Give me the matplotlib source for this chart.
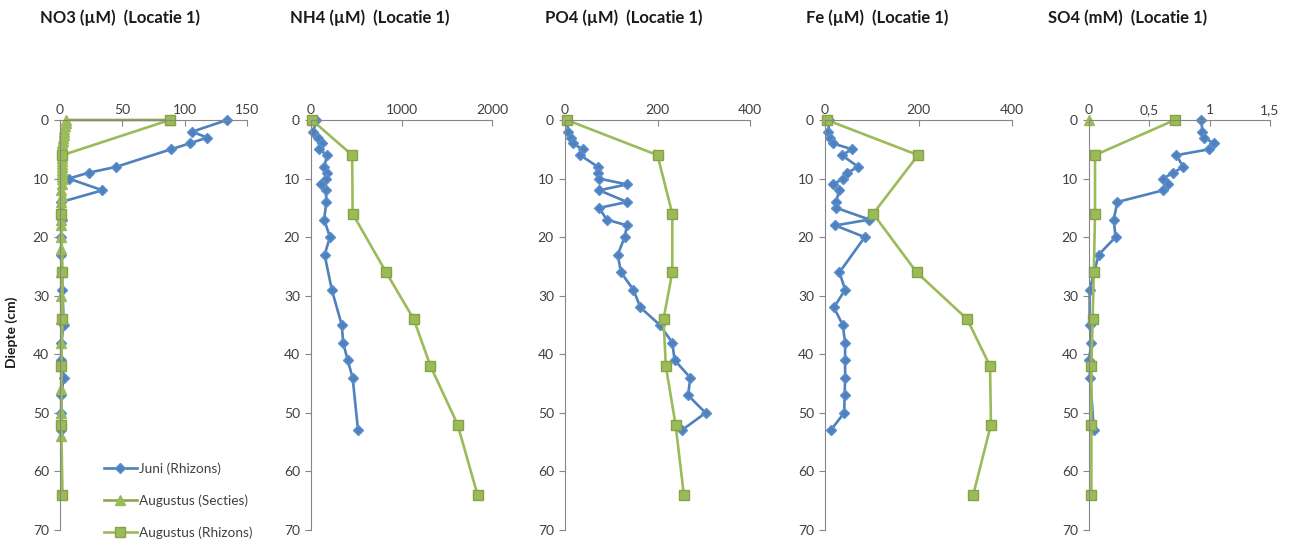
import matplotlib
matplotlib.use('Agg')
import matplotlib.pyplot as plt
from matplotlib.ticker import FuncFormatter

plt.rcParams['font.family'] = ['Lato', 'DejaVu Sans']

# Juni (Rhizons)
juni_depth_no3 = [0, 2, 3, 4, 5, 8, 9, 10, 12, 14, 17, 20, 23, 29, 35, 38, 41, 44, 47, 50, 53]
juni_no3 = [134, 106, 118, 104, 89, 45, 23, 7, 34, 1, 2, 1, 1, 2, 3, 1, 1, 3, 1, 1, 1]

juni_depth_nh4 = [0, 2, 3, 4, 5, 6, 8, 9, 10, 11, 12, 14, 17, 20, 23, 29, 35, 38, 41, 44, 53]
juni_nh4 = [60, 25, 80, 120, 90, 180, 145, 180, 165, 115, 165, 170, 145, 210, 150, 230,
            340, 355, 405, 460, 520]

juni_depth_po4 = [0, 2, 3, 4, 5, 6, 8, 9, 10, 11, 12, 14, 15, 17, 18, 20, 23, 26, 29, 32,
                  35, 38, 41, 44, 47, 50, 53]
juni_po4 = [4, 7, 12, 17, 38, 33, 71, 72, 74, 134, 74, 134, 74, 90, 134, 129, 114, 121,
            148, 163, 205, 232, 237, 271, 266, 304, 252]

juni_depth_fe = [0, 2, 3, 4, 5, 6, 8, 9, 10, 11, 12, 14, 15, 17, 18, 20, 26, 29, 32, 35,
                 38, 41, 44, 47, 50, 53]
juni_fe = [9, 7, 11, 17, 58, 36, 71, 48, 38, 18, 30, 24, 24, 95, 22, 85, 31, 43, 19, 38,
           43, 43, 43, 42, 41, 12]

juni_depth_so4 = [0, 2, 3, 4, 5, 6, 8, 9, 10, 11, 12, 14, 17, 20, 23, 29, 35, 38, 41, 44, 53]
juni_so4 = [0.93, 0.94, 0.955, 1.035, 0.995, 0.725, 0.78, 0.70, 0.61, 0.655, 0.615, 0.235,
            0.205, 0.22, 0.08, 0.005, 0.005, 0.02, 0.0, 0.01, 0.04]

# Augustus (Secties)
sect_depth_no3 = [0, 0, 0.5, 1, 1.5, 2, 2.5, 3, 3.5, 4, 4.5, 5, 5.5, 6, 6.5, 7, 7.5, 8,
                  8.5, 9, 9.5, 10, 11, 12, 13, 14, 15, 16, 17, 18, 20, 22, 26, 30, 34,
                  38, 42, 46, 50, 54]
sect_no3 = [88, 5, 4.5, 4, 3.5, 3, 3, 2.5, 2.5, 2, 2, 2, 2, 2, 1.5, 2, 1.5, 1.5, 2, 1.5,
            1.5, 1.5, 1.5, 1, 1.5, 1, 1, 1, 1, 1, 1, 1, 1, 1, 1, 1, 1, 1, 1, 1]
sect_depth_so4 = [0]
sect_so4 = [0]

# Augustus (Rhizons)
rhiz_depth = [0, 6, 16, 26, 34, 42, 52, 64]
rhiz_no3 = [88, 2, 1, 2, 2, 1, 1, 2]
rhiz_nh4 = [10, 455, 460, 830, 1135, 1320, 1620, 1840]
rhiz_po4 = [4, 200, 232, 232, 213, 218, 239, 257]
rhiz_fe = [4, 199, 103, 196, 304, 353, 355, 317]
rhiz_so4 = [0.71, 0.05, 0.05, 0.04, 0.03, 0.02, 0.02, 0.02]

titles = ['NO3 (\u00b5M)  (Locatie 1)', 'NH4 (\u00b5M)  (Locatie 1)', 'PO4 (\u00b5M)  (Locatie 1)',
          'Fe (\u00b5M)  (Locatie 1)', 'SO4 (mM)  (Locatie 1)']
xticks = [[0, 50, 100, 150], [0, 1000, 2000], [0, 200, 400], [0, 200, 400], [0, 0.5, 1, 1.5]]

juni = [(juni_depth_no3, juni_no3), (juni_depth_nh4, juni_nh4), (juni_depth_po4, juni_po4),
        (juni_depth_fe, juni_fe), (juni_depth_so4, juni_so4)]
sect = [(sect_depth_no3, sect_no3), None, None, None, (sect_depth_so4, sect_so4)]
rhiz = [rhiz_no3, rhiz_nh4, rhiz_po4, rhiz_fe, rhiz_so4]

W, H = 1297, 544
lefts = [60, 311, 565, 825, 1089]
widths = [187, 181, 185, 187, 181]
title_x = [40, 290, 545, 806, 1048]
top, bottom = 120, 530

blue = '#4f81bd'
green = '#9bbb59'
gray = '#868686'

fig = plt.figure(figsize=(W / 100, H / 100), dpi=100)

axes = []
for i in range(5):
    ax = fig.add_axes([lefts[i] / W, 1 - bottom / H, widths[i] / W, (bottom - top) / H])
    axes.append(ax)

    d, v = juni[i]
    ax.plot(v, d, color=blue, lw=1.9, marker='D', ms=5, mfc=blue, mec='#5b8fd0',
            label='Juni (Rhizons)', clip_on=False)
    if sect[i] is not None:
        d, v = sect[i]
        ax.plot(v, d, color='#8ea64e', lw=1.9, marker='^', ms=6.5, mfc=green, mec=green,
                label='Augustus (Secties)', clip_on=False)
    ax.plot(rhiz[i], rhiz_depth, color=green, lw=1.9, marker='s', ms=7, mfc=green,
            mec='#86a346', label='Augustus (Rhizons)', clip_on=False)

    ax.set_xlim(xticks[i][0], xticks[i][-1])
    ax.set_ylim(70, 0)
    ax.set_xticks(xticks[i])
    ax.set_yticks(range(0, 71, 10))
    ax.xaxis.tick_top()
    ax.spines['right'].set_visible(False)
    ax.spines['bottom'].set_visible(False)
    ax.spines['top'].set_color(gray)
    ax.spines['left'].set_color(gray)
    ax.tick_params(axis='x', direction='in', length=4, color=gray, labelsize=10,
                   labelcolor='#404040', pad=3)
    ax.tick_params(axis='y', direction='out', length=4, color=gray, labelsize=10,
                   labelcolor='#404040', pad=4)
    fig.text(title_x[i] / W, 1 - 18 / H, titles[i], fontsize=12, fontweight='bold',
             ha='left', va='center', color='#1a1a1a')

axes[4].xaxis.set_major_formatter(FuncFormatter(lambda x, p: ('%g' % x).replace('.', ',')))

fig.text(12 / W, 1 - 332 / H, 'Diepte (cm)', rotation=90, fontsize=10, fontweight='bold',
         ha='center', va='center', color='#1a1a1a')

handles, labels = axes[0].get_legend_handles_labels()
fig.legend(handles, labels, loc='upper left', bbox_to_anchor=(104 / W, 1 - 462 / H),
           frameon=False, fontsize=9.8, labelspacing=1.45, handlelength=2.4,
           handletextpad=0.2, borderpad=0, borderaxespad=0, labelcolor='#404040')

fig.savefig('out.png', dpi=100)
